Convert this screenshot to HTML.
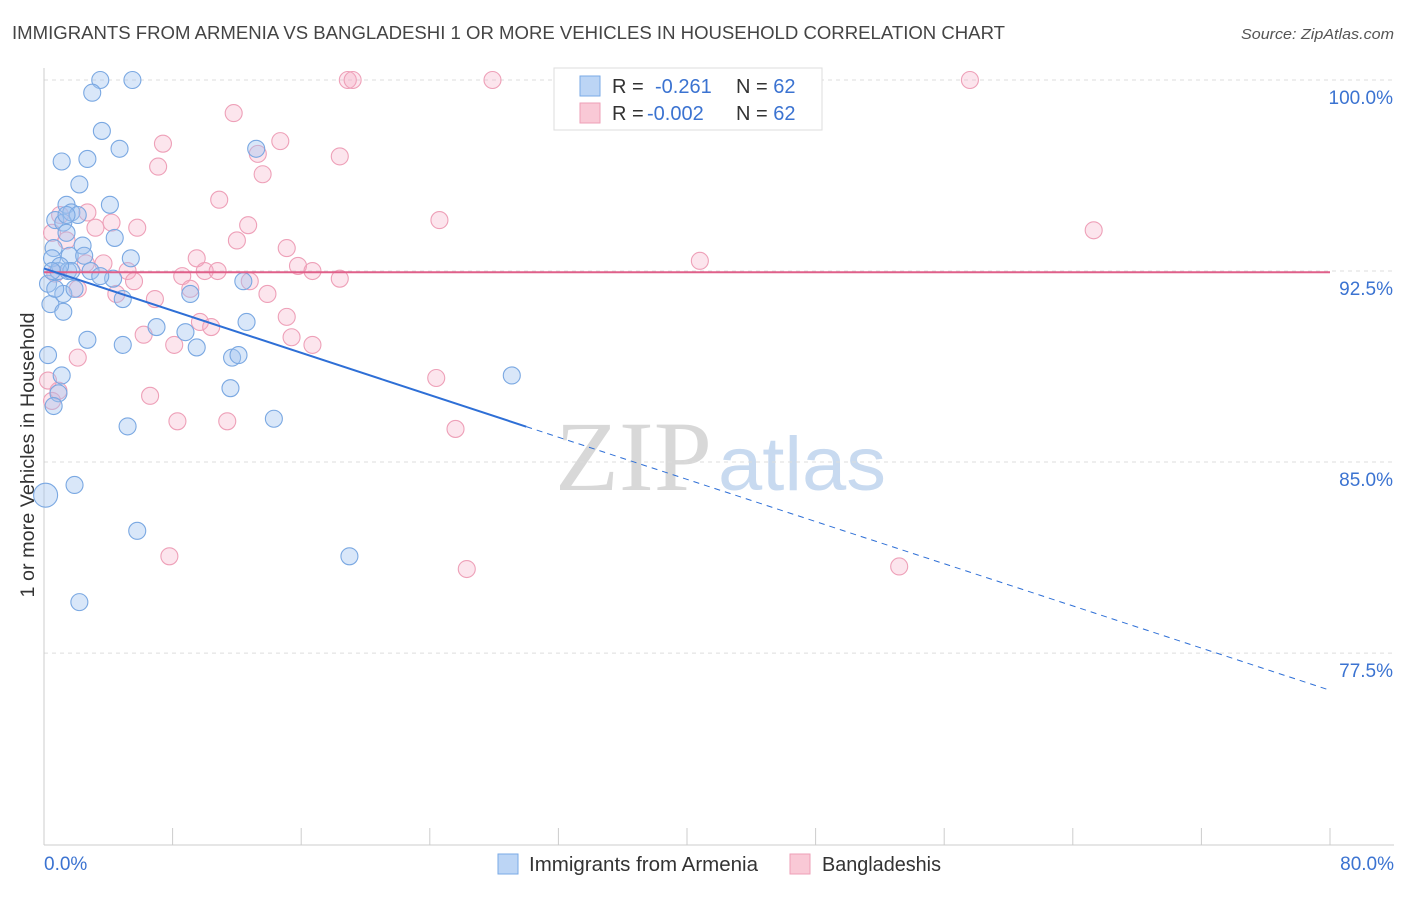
<!DOCTYPE html>
<html><head><meta charset="utf-8"><style>
body{margin:0;background:#fff;font-family:"Liberation Sans",sans-serif;}
</style></head><body>
<svg id="chart" width="1406" height="892" xmlns="http://www.w3.org/2000/svg" font-family="Liberation Sans, sans-serif">
<text x="12" y="39" font-size="18" fill="#444" textLength="993" lengthAdjust="spacingAndGlyphs">IMMIGRANTS FROM ARMENIA VS BANGLADESHI 1 OR MORE VEHICLES IN HOUSEHOLD CORRELATION CHART</text>
<text x="1241" y="39" font-size="15" fill="#555" font-style="italic" textLength="153" lengthAdjust="spacingAndGlyphs">Source: ZipAtlas.com</text>
<text transform="translate(34,455) rotate(-90)" font-size="19" fill="#333" text-anchor="middle" textLength="285" lengthAdjust="spacingAndGlyphs">1 or more Vehicles in Household</text>
<g>
<text x="555" y="490" font-size="100" fill="#d8d8d8" font-family="Liberation Serif, serif" textLength="157" lengthAdjust="spacingAndGlyphs">ZIP</text>
<text x="718" y="490" font-size="76" fill="#c8daf0" textLength="168" lengthAdjust="spacingAndGlyphs">atlas</text>
</g>
<g id="grid"></g><g id="axes"></g><g id="pts"></g><g id="trend"></g>
<g>
<rect x="554" y="68" width="268" height="62" fill="#fff" stroke="#ddd"/>
<rect x="580" y="76" width="20" height="20" fill="#bcd5f5" stroke="#7aaae6"/>
<text x="612" y="93" font-size="20" fill="#333">R = </text>
<text x="655" y="93" font-size="20" fill="#3b73d1">-0.261</text>
<text x="736" y="93" font-size="20" fill="#333">N = <tspan fill="#3b73d1">62</tspan></text>
<rect x="580" y="103" width="20" height="20" fill="#f9c9d6" stroke="#ee9fb7"/>
<text x="612" y="120" font-size="20" fill="#333">R = </text>
<text x="647" y="120" font-size="20" fill="#3b73d1">-0.002</text>
<text x="736" y="120" font-size="20" fill="#333">N = <tspan fill="#3b73d1">62</tspan></text>
</g>
<g>
<rect x="498" y="854" width="20" height="20" fill="#bcd5f5" stroke="#7aaae6"/>
<text x="529" y="871" font-size="20" fill="#333" textLength="229" lengthAdjust="spacingAndGlyphs">Immigrants from Armenia</text>
<rect x="790" y="854" width="20" height="20" fill="#f9c9d6" stroke="#ee9fb7"/>
<text x="822" y="871" font-size="20" fill="#333" textLength="119" lengthAdjust="spacingAndGlyphs">Bangladeshis</text>
</g>
</svg>
<script>
const yTicks=[100,92.5,85,77.5];
const yTickLabels=["100.0%","92.5%","85.0%","77.5%"];
const xTickCount=10;
const xLabels=["0.0%","80.0%"];
const blueX=[3.5,5.5,3.0,3.6,4.7,1.1,2.7,13.2,2.2,1.4,4.1,0.7,1.2,1.7,2.1,4.4,1.4,0.6,2.4,1.6,2.5,0.5,5.4,0.9,1.5,2.9,4.3,0.25,1.2,1.9,4.9,9.1,12.4,0.4,1.2,7.0,8.8,12.6,2.7,4.9,9.5,11.7,12.1,0.25,1.1,11.6,29.1,0.9,0.6,5.2,14.3,0.1,1.9,5.8,19.0,2.2,1.7,1.0,1.4,0.7,3.5,0.5];
const blueY=[100,100,99.5,98.0,97.3,96.8,96.9,97.3,95.9,95.1,95.1,94.5,94.4,94.8,94.7,93.8,94.0,93.4,93.5,93.1,93.1,93.0,93.0,92.5,92.5,92.5,92.2,92.0,91.6,91.8,91.4,91.6,92.1,91.2,90.9,90.3,90.1,90.5,89.8,89.6,89.5,89.1,89.2,89.2,88.4,87.9,88.4,87.7,87.2,86.4,86.7,83.7,84.1,82.3,81.3,79.5,92.5,92.7,94.7,91.8,92.3,92.5];
const pinkX=[18.9,19.2,27.9,57.6,11.8,7.4,14.7,13.3,18.4,7.1,13.6,10.9,24.6,65.3,2.7,4.2,1.0,3.2,5.8,12.7,12.0,1.4,15.1,0.5,9.5,15.8,40.8,3.7,5.2,8.6,10.0,10.8,16.7,18.4,12.8,5.6,2.1,9.1,13.9,4.5,6.9,15.1,9.7,10.4,6.2,15.4,8.1,16.7,2.1,24.4,6.6,0.5,0.9,8.3,11.4,25.6,7.8,26.3,53.2,0.25,0.7,2.6];
const pinkY=[100,100,100,100,98.7,97.5,97.6,97.1,97.0,96.6,96.3,95.3,94.5,94.1,94.8,94.4,94.7,94.2,94.2,94.3,93.7,93.7,93.4,94.0,93.0,92.7,92.9,92.8,92.5,92.3,92.5,92.5,92.5,92.2,92.1,92.1,91.8,91.8,91.6,91.6,91.4,90.7,90.5,90.3,90.0,89.9,89.6,89.6,89.1,88.3,87.6,87.4,87.8,86.6,86.6,86.3,81.3,80.8,80.9,88.2,92.4,92.8];
const blueTrend=[92.6,-0.207];
const pinkTrend=[92.45,0];
const X0=44,X1=1330,Y0=80,PXY=25.47;
const sx=v=>X0+v*(X1-X0)/80;
const sy=v=>Y0+(100-v)*PXY;
const NS="http://www.w3.org/2000/svg";
function mk(t,a,p){const e=document.createElementNS(NS,t);for(const k in a)e.setAttribute(k,a[k]);p.appendChild(e);return e;}
const grid=document.getElementById('grid'),axes=document.getElementById('axes'),pts=document.getElementById('pts'),tr=document.getElementById('trend');
yTicks.forEach((v,i)=>{
 const l=mk('line',{x1:X0,x2:1394,y1:sy(v),y2:sy(v),stroke:'#ddd','stroke-dasharray':'4,4'},grid);
 
 
 const t=mk('text',{x:1393,y:sy(v)+24,'font-size':19,fill:'#3b73d1','text-anchor':'end'},axes);
 t.textContent=yTickLabels[i];
 
 
});
const ax=mk('line',{x1:X0,x2:X0,y1:68,y2:845,stroke:'#ccc'},axes);


const bx=mk('line',{x1:X0,x2:1394,y1:845,y2:845,stroke:'#ccc'},axes);


for(let i=0;i<=xTickCount;i++){
 const x=sx(i*80/xTickCount);
 const t=mk('line',{x1:x,x2:x,y1:828,y2:845,stroke:'#ccc'},axes);
 
 
}
[[0,'start',44],[80,'end',1394]].forEach((d,i)=>{
 const t=mk('text',{x:d[2],y:870,'font-size':19,fill:'#3b73d1','text-anchor':d[1]},axes);
 t.textContent=xLabels[i];
 
 
});
function dots(X,Y,fill,stroke,name){
 X.forEach((x,i)=>{
  const r=(name==='armenia-point'&&i===51)?12:8.5;
  const c=mk('circle',{cx:sx(x),cy:sy(Y[i]),r:r,fill:fill,stroke:stroke,'stroke-width':1.1},pts);
  
  
 });
}
dots(pinkX,pinkY,'rgba(246,170,195,0.3)','#eea0b8','bangladeshi-point');
dots(blueX,blueY,'rgba(160,195,240,0.4)','#7aa8e2','armenia-point');
const p=mk('line',{x1:sx(0),x2:sx(80),y1:sy(pinkTrend[0]),y2:sy(pinkTrend[0]+80*pinkTrend[1]),stroke:'#e0608a','stroke-width':2},tr);


const b1=mk('line',{x1:sx(0),x2:sx(30),y1:sy(blueTrend[0]),y2:sy(blueTrend[0]+30*blueTrend[1]),stroke:'#2e6fd6','stroke-width':2},tr);


const b2=mk('line',{x1:sx(30),x2:sx(80),y1:sy(blueTrend[0]+30*blueTrend[1]),y2:sy(blueTrend[0]+80*blueTrend[1]),stroke:'#2e6fd6','stroke-width':1,'stroke-dasharray':'6,5'},tr);


</script>
</body></html>
